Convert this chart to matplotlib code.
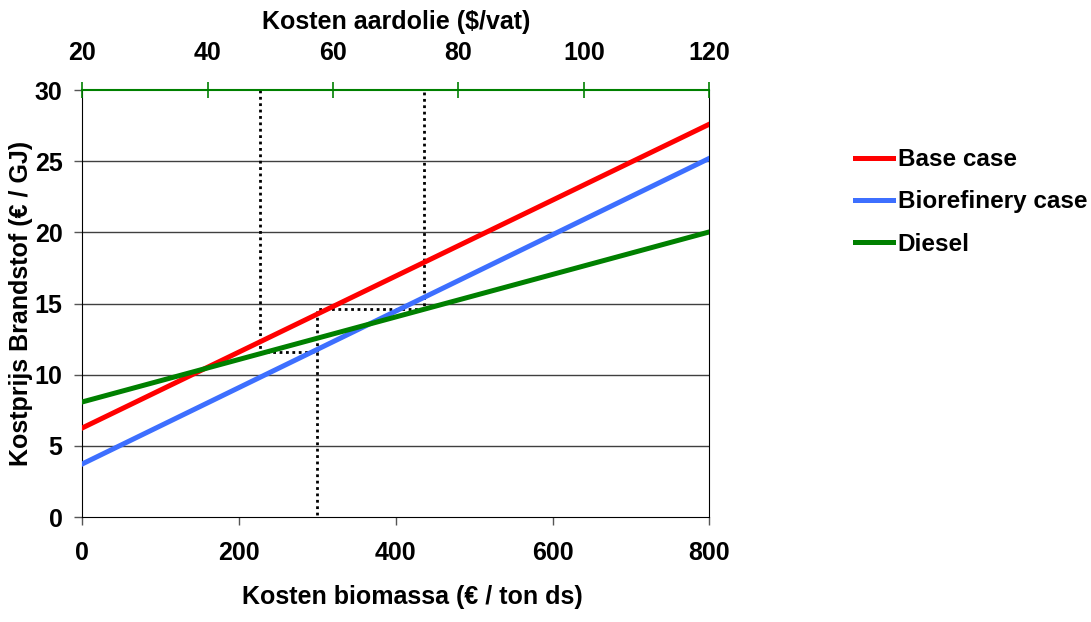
import matplotlib.pyplot as plt

plt.rcParams['font.family'] = ['Liberation Sans', 'DejaVu Sans']
plt.rcParams['font.weight'] = 'bold'

# data
biomassa = [0, 800]
base_case = [6.25, 27.6]
biorefinery = [3.72, 25.2]
olie = [20, 120]
diesel = [8.08, 20.03]

# hulplijnen (biomassa, brandstof)
hulp1_x = [227, 227, 300, 300]
hulp1_y = [30, 11.6, 11.6, 0]
hulp2_x = [300, 300, 436, 436]
hulp2_y = [11.6, 14.6, 14.6, 30]

fig = plt.figure(figsize=(10.91, 6.22), dpi=100)
ax = fig.add_axes([0.0752, 0.1688, 0.575, 0.6865])
ax2 = ax.twiny()

for y in range(5, 30, 5):
    ax.axhline(y, color='#404040', lw=1, zorder=1)

ax.plot(hulp1_x, hulp1_y, color='black', ls=(0, (1, 1.3)), lw=2, zorder=2)
ax.plot(hulp2_x, hulp2_y, color='black', ls=(0, (1, 1.3)), lw=2, zorder=2)

l1, = ax.plot(biomassa, base_case, color='#ff0000', lw=3.6, label='Base case', zorder=3)
l2, = ax.plot(biomassa, biorefinery, color='#3d6fff', lw=3.6, label='Biorefinery case', zorder=3)
l3, = ax2.plot(olie, diesel, color='#008000', lw=3.6, label='Diesel', zorder=3)

ax.set_xlim(0, 800)
ax.set_ylim(0, 30)
ax2.set_xlim(20, 120)
ax.set_xticks(range(0, 801, 200))
ax.set_yticks(range(0, 31, 5))
ax2.set_xticks(range(20, 121, 20))

ax.tick_params(axis='both', labelsize=18, length=6, width=1, color='#555555')
ax.tick_params(axis='x', pad=11)
ax.tick_params(axis='y', pad=8)
ax2.tick_params(axis='x', labelsize=18, length=11.5, width=1.2, direction='inout',
                color='#008000', pad=12)

for s in ['left', 'right', 'bottom']:
    ax.spines[s].set_color('black')
    ax2.spines[s].set_visible(False)
ax.spines['top'].set_visible(False)
ax2.spines['top'].set_color('#008000')
ax2.spines['top'].set_linewidth(1.5)

ax.set_xlabel('Kosten biomassa (€ / ton ds)', fontsize=18, fontweight='bold', labelpad=14)
ax.xaxis.set_label_coords(0.526, -0.16)
ax.set_ylabel('Kostprijs Brandstof (€ / GJ)', fontsize=18, fontweight='bold', labelpad=1)
ax2.set_xlabel('Kosten aardolie ($/vat)', fontsize=18, fontweight='bold', labelpad=9)

fig.legend(handles=[l1, l2, l3], loc='upper left', bbox_to_anchor=(855 / 1091, 0.762),
           frameon=False, fontsize=17.5, handlelength=1.56, handletextpad=0.2,
           labelspacing=0.8, borderaxespad=0, borderpad=0)

fig.savefig('out.png', dpi=100)
